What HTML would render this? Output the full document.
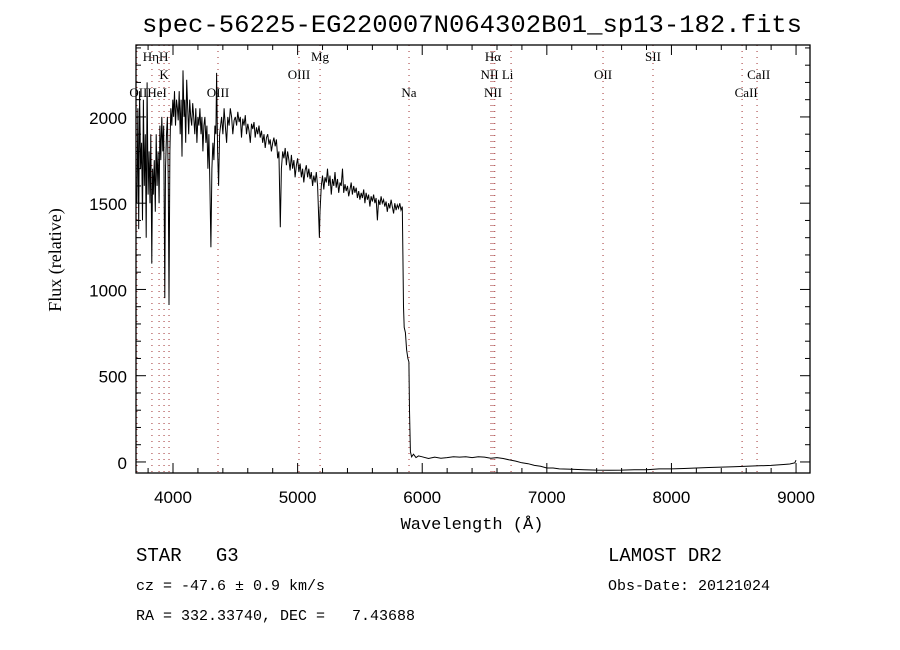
<!DOCTYPE html>
<html><head><meta charset="utf-8"><style>
body{margin:0;background:#fff;}
svg{display:block;}
text{fill:#000;}
</style></head><body>
<svg id="chart" width="900" height="650" xmlns="http://www.w3.org/2000/svg">
<rect width="900" height="650" fill="#fff"/>
<text x="472" y="32" text-anchor="middle" font-family="Liberation Mono, monospace" font-size="25" textLength="660" lengthAdjust="spacingAndGlyphs">spec-56225-EG220007N064302B01_sp13-182.fits</text>
<g id="lines"></g>
<g id="ticks"></g>
<path id="spec" fill="none" stroke="#000" stroke-width="1"/>
<rect x="136" y="45" width="674" height="428" fill="none" stroke="#000" stroke-width="1.3"/>
<text transform="translate(61,260) rotate(-90)" text-anchor="middle" font-family="Liberation Serif, serif" font-size="18">Flux (relative)</text>
<text x="472" y="529" text-anchor="middle" font-family="Liberation Mono, monospace" font-size="17">Wavelength (Å)</text>
<text x="136" y="561" font-family="Liberation Mono, monospace" font-size="19" xml:space="preserve">STAR   G3</text>
<text x="136" y="590" font-family="Liberation Mono, monospace" font-size="15">cz = -47.6 ± 0.9 km/s</text>
<text x="136" y="620" font-family="Liberation Mono, monospace" font-size="15" xml:space="preserve">RA = 332.33740, DEC =   7.43688</text>
<text x="608" y="561" font-family="Liberation Mono, monospace" font-size="19">LAMOST DR2</text>
<text x="608" y="590" font-family="Liberation Mono, monospace" font-size="15">Obs-Date: 20121024</text>
</svg>
<script>
const waves=[3710,3718,3725,3732,3740,3748,3755,3762,3770,3778,3785,3792,3800,3808,3815,3822,3830,3836,3842,3850,3858,3865,3872,3880,3888,3895,3902,3910,3918,3925,3934,3940,3948,3955,3962,3968,3975,3982,3990,3998,4005,4012,4020,4028,4035,4042,4050,4058,4065,4072,4080,4088,4095,4102,4110,4118,4126,4134,4142,4150,4158,4166,4175,4183,4192,4200,4208,4216,4225,4232,4240,4248,4256,4264,4272,4280,4288,4296,4304,4312,4320,4328,4336,4344,4350,4358,4366,4374,4382,4390,4400,4410,4420,4430,4440,4450,4460,4470,4480,4490,4500,4510,4520,4530,4540,4550,4560,4570,4580,4590,4600,4610,4620,4630,4640,4650,4660,4670,4680,4690,4700,4710,4720,4730,4740,4750,4760,4770,4780,4790,4800,4810,4820,4830,4840,4850,4861,4870,4880,4890,4900,4910,4920,4930,4940,4950,4960,4970,4980,4990,5000,5010,5020,5030,5040,5050,5060,5070,5080,5090,5100,5110,5120,5130,5140,5150,5160,5170,5175,5180,5190,5200,5210,5220,5230,5240,5250,5260,5270,5280,5290,5300,5310,5320,5330,5340,5350,5360,5370,5380,5390,5400,5410,5420,5430,5440,5450,5460,5470,5480,5490,5500,5510,5520,5530,5540,5550,5560,5570,5580,5590,5600,5610,5620,5630,5640,5650,5660,5670,5680,5690,5700,5710,5720,5730,5740,5750,5760,5770,5780,5790,5800,5810,5820,5830,5840,5845,5850,5855,5865,5875,5885,5893,5898,5905,5915,5930,5950,5970,6000,6050,6100,6150,6200,6250,6300,6350,6400,6450,6500,6550,6600,6650,6700,6750,6800,6850,6900,6950,7000,7050,7100,7200,7300,7400,7500,7600,7700,7800,7900,8000,8100,8200,8300,8400,8500,8600,8700,8800,8900,8950,8990,9000];
const fluxes=[1500,2050,1350,2150,1700,1850,1400,2100,1600,1900,1300,2200,1550,1800,1500,1900,1150,1700,1550,1750,1450,1900,1600,1800,1500,1950,1750,2000,1800,1950,950,1700,1900,2000,1600,910,1800,2050,1950,2100,2000,2150,1950,2100,2050,1980,2150,1900,2100,1770,2270,2000,2100,1850,2215,2050,1900,2100,2000,1950,2080,2000,1900,2050,1850,2000,1950,2050,1900,2000,1800,1950,2000,1850,1950,1700,1900,1600,1245,1700,1850,1750,1950,1900,2255,1800,1600,1900,1950,2000,1900,2050,1950,1850,2000,1950,2050,2000,1900,1980,2000,1950,2030,1970,2000,1880,1990,1950,2010,1900,1960,1920,1850,1960,1930,1970,1880,1940,1900,1950,1880,1920,1850,1900,1820,1880,1900,1840,1870,1800,1850,1880,1830,1870,1760,1800,1360,1700,1800,1760,1820,1720,1800,1750,1690,1780,1700,1750,1650,1720,1760,1680,1730,1650,1700,1620,1690,1720,1650,1700,1640,1680,1600,1660,1620,1680,1600,1400,1300,1450,1600,1660,1580,1650,1620,1700,1600,1660,1550,1640,1600,1680,1590,1640,1560,1620,1600,1700,1560,1610,1570,1600,1540,1580,1620,1550,1600,1560,1590,1530,1570,1520,1560,1530,1580,1500,1560,1520,1550,1480,1540,1510,1550,1500,1530,1400,1520,1490,1540,1500,1520,1480,1510,1450,1500,1470,1520,1480,1440,1500,1460,1490,1470,1500,1460,1480,1200,900,780,750,650,600,580,300,60,30,45,25,35,30,20,28,22,25,30,28,30,25,30,28,22,25,20,12,5,-5,-10,-20,-25,-35,-35,-40,-42,-45,-47,-48,-47,-45,-45,-40,-40,-38,-35,-32,-30,-28,-25,-22,-20,-15,-12,-5,10];
const lineWaves=[3711,3831,3888,3928,3968,4361,5011,5180,5894,6552,6568,6582,6713,7451,7852,8567,8687];
const labelTexts=["HηH","K","OIIHeI","OIII","OIII","Mg","Na","Hα","NII Li","NII","OII","SII","CaII","CaII"];
const labelWaves=[3860,3928,3800,4361,5011,5180,5894,6568,6600,6568,7451,7852,8700,8600];
const labelRows=[0,1,2,2,1,0,2,0,1,2,1,0,1,2];
const xTicks=[4000,5000,6000,7000,8000,9000];
const yTicks=[0,500,1000,1500,2000];

const NS="http://www.w3.org/2000/svg";
const X0=136,X1=810,Y0=45,Y1=473;
const xMin=3703,xMax=9112,yMin=-64,yMax=2417;
function xs(v){return X0+(v-xMin)/(xMax-xMin)*(X1-X0);}
function ys(v){return Y1-(v-yMin)/(yMax-yMin)*(Y1-Y0);}

let d="";
for(let i=0;i<waves.length;i++){d+=(i?"L":"M")+xs(waves[i]).toFixed(1)+","+ys(fluxes[i]).toFixed(1);}
document.getElementById("spec").setAttribute("d",d);

const lg=document.getElementById("lines");
for(const w of lineWaves){
  const l=document.createElementNS(NS,"line");
  
  
  l.setAttribute("x1",xs(w));l.setAttribute("x2",xs(w));
  l.setAttribute("y1",Y0);l.setAttribute("y2",Y1);
  l.setAttribute("stroke","#a03030");l.setAttribute("stroke-width","1");
  l.setAttribute("stroke-dasharray","1,5");
  lg.appendChild(l);
}
const rowY=[61,79,97];
for(let i=0;i<labelTexts.length;i++){
  const t=document.createElementNS(NS,"text");
  
  
  t.setAttribute("x",xs(labelWaves[i]));t.setAttribute("y",rowY[labelRows[i]]);
  t.setAttribute("text-anchor","middle");
  t.setAttribute("font-family","Liberation Serif, serif");
  t.setAttribute("font-size","13");
  t.textContent=labelTexts[i];
  lg.appendChild(t);
}

const tg=document.getElementById("ticks");
function ln(x1,y1,x2,y2){
  const l=document.createElementNS(NS,"line");
  
  
  l.setAttribute("x1",x1);l.setAttribute("y1",y1);l.setAttribute("x2",x2);l.setAttribute("y2",y2);
  l.setAttribute("stroke","#000");l.setAttribute("stroke-width","1");
  tg.appendChild(l);
}
for(let w=3800;w<=9100;w+=200){
  const major=w%1000===0;const len=major?10:5;const x=xs(w);
  ln(x,Y1,x,Y1-len);ln(x,Y0,x,Y0+len);
}
for(let v=0;v<=2400;v+=100){
  const major=v%500===0;const len=major?10:5;const y=ys(v);
  ln(X0,y,X0+len,y);ln(X1,y,X1-len,y);
}
for(const v of xTicks){
  const t=document.createElementNS(NS,"text");
  
  
  t.setAttribute("x",xs(v));t.setAttribute("y",Y1+30);
  t.setAttribute("text-anchor","middle");
  t.setAttribute("font-family","Liberation Sans, sans-serif");t.setAttribute("font-size","17");
  t.textContent=v;tg.appendChild(t);
}
for(const v of yTicks){
  const t=document.createElementNS(NS,"text");
  
  
  t.setAttribute("x",X0-9);t.setAttribute("y",ys(v)+7);
  t.setAttribute("text-anchor","end");
  t.setAttribute("font-family","Liberation Sans, sans-serif");t.setAttribute("font-size","17");
  t.textContent=v;tg.appendChild(t);
}
</script>
</body></html>
